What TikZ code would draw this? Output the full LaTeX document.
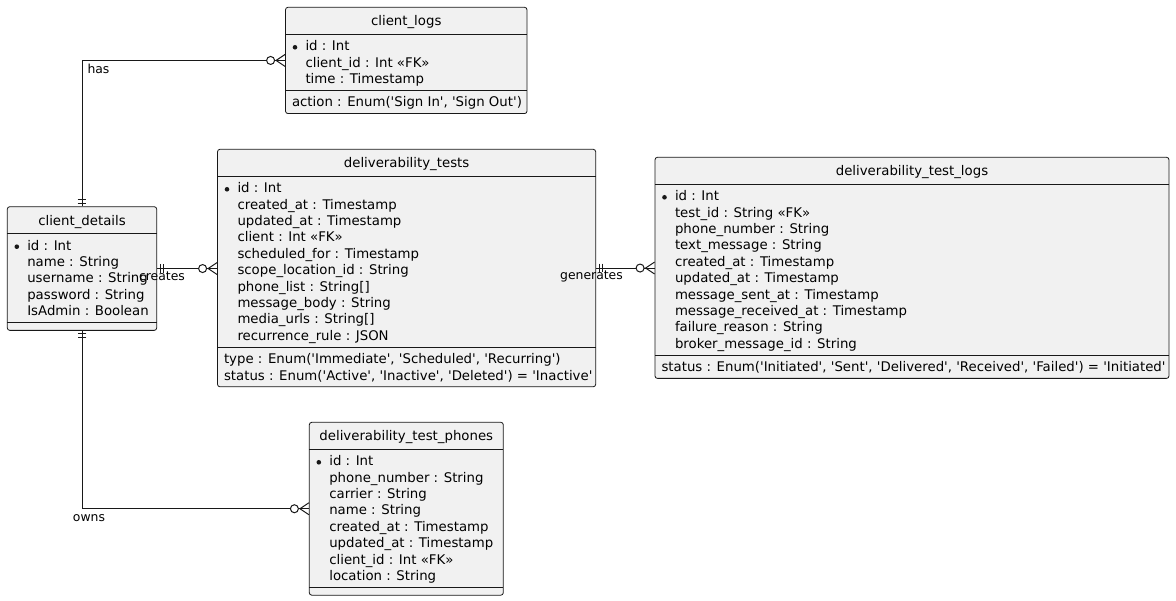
\documentclass[tikz,border=0pt]{standalone}
\usepackage{fontspec}
\usetikzlibrary{fit,calc}
\newfontfamily\erfont{DejaVu Sans}

\definecolor{ink}{HTML}{181818}
\definecolor{boxfill}{HTML}{F1F1F1}

\tikzset{
  entbox/.style={draw=ink, line width=0.8pt, fill=boxfill, rounded corners=2.5pt, inner sep=0pt},
  entline/.style={draw=ink, line width=0.8pt},
  enttext/.style={inner sep=0pt, outer sep=0pt, text=black, font=\erfont\fontsize{13.3}{16.4}\selectfont},
  linklabel/.style={inner sep=0pt, outer sep=0pt, text=black, font=\erfont\fontsize{12.4}{15}\selectfont},
  link/.style={draw=ink, line width=1pt},
  one only/.pic={\draw[link] (3,-4.3) -- (3,4.3) (6.5,-4.3) -- (6.5,4.3);},
  zero many/.pic={\draw[link] (0,6) -- (9,0) -- (0,-6);
                  \draw[link, fill=white] (14.5,0) circle[radius=4];}
}

% entity: #1 name, #2 left, #3 top, #4 right, #5 title,
%         #6 number of fields, #7 fields, #8 number of methods, #9 methods
\newcommand{\erentity}[9]{%
  \pgfmathsetmacro\entA{#3+26.7}%
  \pgfmathsetmacro\entB{\entA+16.4*#6+7}%
  \ifnum#8=0 \pgfmathsetmacro\entC{\entB+8}%
  \else \pgfmathsetmacro\entC{\entB+16.4*#8+7}\fi
  \node[entbox, fit={(#2,#3) (#4,\entC)}] (#1) {};
  \draw[entline] (#2,\entA) -- (#4,\entA);
  \draw[entline] (#2,\entB) -- (#4,\entB);
  \node[enttext, anchor=base] (#1-title) at ({(#2+#4)/2},{#3+18.5}) {#5};
  \fill[ink] ({#2+9.5},{\entA+13.3}) circle[radius=2.3];
  \foreach \erline [count=\i from 0] in {#7} {
    \node[enttext, anchor=base west] (#1-a\i) at ({#2+20},{\entA+16.7+16.4*\i}) {\erline};
  }
  \ifnum#8>0
  \foreach \erline [count=\i from 0] in {#9} {
    \node[enttext, anchor=base west] (#1-m\i) at ({#2+6.5},{\entB+16.7+16.4*\i}) {\erline};
  }
  \fi
}

\begin{document}
\begin{tikzpicture}[x=1pt, y=-1pt]
\fill[white] (0,0) rectangle (1176,601);
\useasboundingbox (0,0) rectangle (1176,601);

\erentity{cl}{285.5}{7.3}{527}{client\_logs}{3}%
  {id : Int, client\_id : Int «FK», time : Timestamp}%
  {1}{{action : Enum('Sign In', 'Sign Out')}}

\erentity{cd}{7.3}{206.7}{156.7}{client\_details}{5}%
  {id : Int, name : String, username : String, password : String, IsAdmin : Boolean}%
  {0}{}

\erentity{dt}{217.5}{149.3}{595.7}{deliverability\_tests}{10}%
  {id : Int, created\_at : Timestamp, updated\_at : Timestamp, client : Int «FK»,
   scheduled\_for : Timestamp, scope\_location\_id : String, phone\_list : String[],
   message\_body : String, media\_urls : String[], recurrence\_rule : JSON}%
  {2}{{type : Enum('Immediate', 'Scheduled', 'Recurring')},
      {status : Enum('Active', 'Inactive', 'Deleted') = 'Inactive'}}

\erentity{dl}{655}{157.3}{1169}{deliverability\_test\_logs}{10}%
  {id : Int, test\_id : String «FK», phone\_number : String, text\_message : String,
   created\_at : Timestamp, updated\_at : Timestamp, message\_sent\_at : Timestamp,
   message\_received\_at : Timestamp, failure\_reason : String, broker\_message\_id : String}%
  {1}{{status : Enum('Initiated', 'Sent', 'Delivered', 'Received', 'Failed') = 'Initiated'}}

\erentity{ph}{309.3}{422.3}{503.3}{deliverability\_test\_phones}{8}%
  {id : Int, phone\_number : String, carrier : String, name : String,
   created\_at : Timestamp, updated\_at : Timestamp, client\_id : Int «FK», location : String}%
  {0}{}

% relationships
\draw[link] (cd.north) |- (cl.west);
\draw[link] (cd.east) -- (cd.east -| dt.west);
\draw[link] (dt.east) -- (dt.east -| dl.west);
\draw[link] (cd.south) |- (ph.west);

\pic[rotate=90]  at (cd.north) {one only};
\pic[rotate=180] at (cl.west)  {zero many};
\pic             at (cd.east)  {one only};
\pic[rotate=180] at (cd.east -| dt.west) {zero many};
\pic             at (dt.east)  {one only};
\pic[rotate=180] at (dt.east -| dl.west) {zero many};
\pic[rotate=-90] at (cd.south) {one only};
\pic[rotate=180] at (ph.west)  {zero many};

\node[linklabel, anchor=base west] (lhas) at (87.5,74) {has};
\node[linklabel, anchor=base] (lcreates) at (162,280.7) {creates};
\node[linklabel, anchor=base] (lgenerates) at (591.5,279.3) {generates};
\node[linklabel, anchor=base] (lowns) at (89,521.7) {owns};
\end{tikzpicture}
\end{document}
